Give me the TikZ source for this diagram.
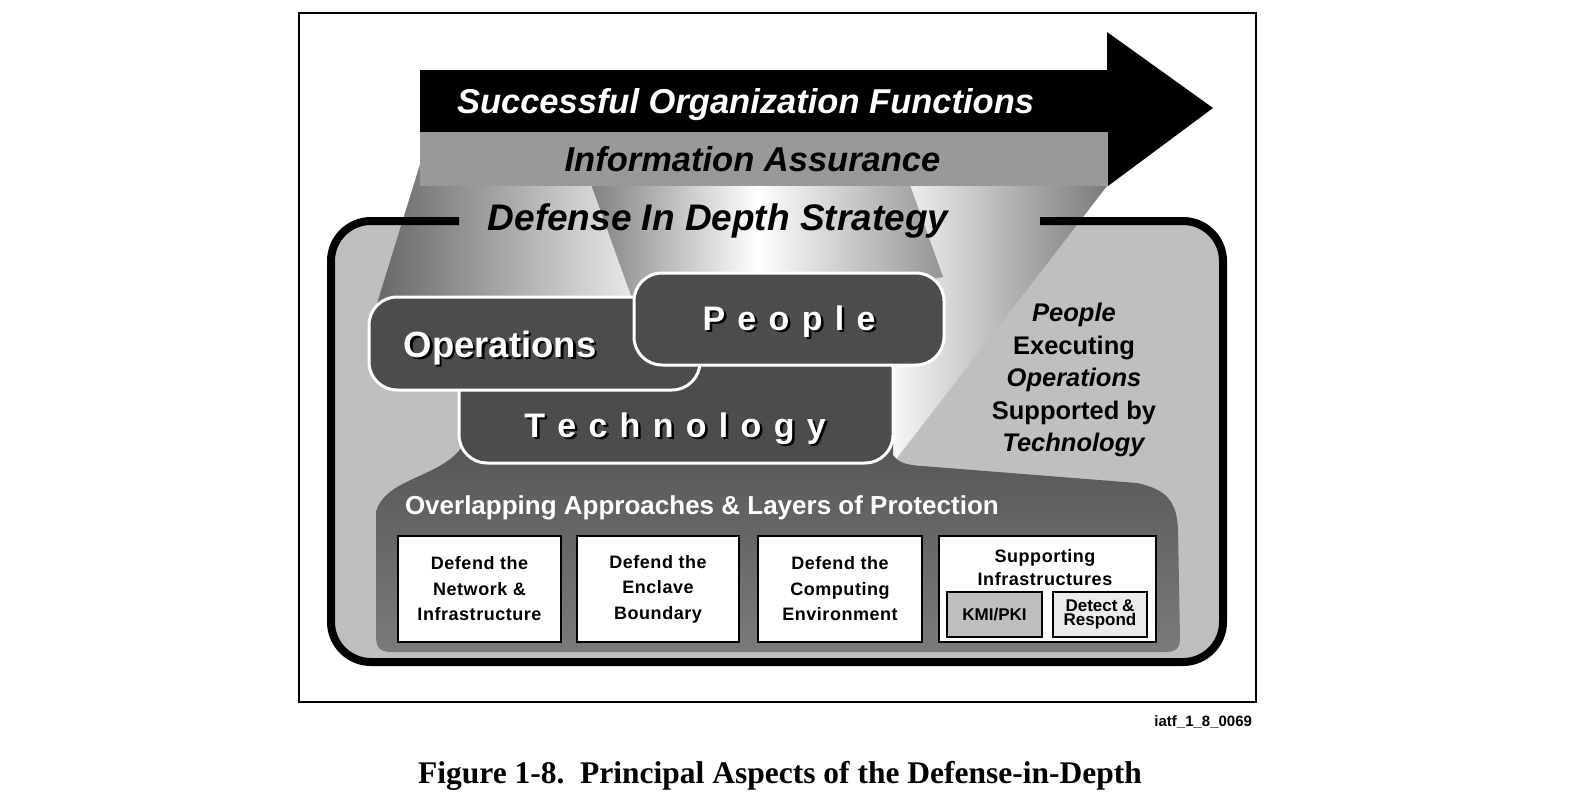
\documentclass[tikz,border=0pt]{standalone}
\usepackage{fontspec}
\setmainfont{Liberation Sans}
\newfontfamily\captionserif{Liberation Serif}
% white word with a dark drop shadow
\newcommand\dropshadow[1]{\leavevmode\rlap{\kern2.5pt\raisebox{-2.5pt}{\textcolor{black}{#1}}}#1}
\newcommand\lettergap{\kern12.3pt}
\begin{document}
\begin{tikzpicture}[x=1pt,y=-1pt]
\tikzset{
  every node/.style={inner sep=0pt, outer sep=0pt},
  bigbox/.style={draw=white, line width=3pt, fill=black!70, rounded corners=28pt},
  bigword/.style={text=white, font=\fontsize{36.5}{40}\selectfont\bfseries},
  spacedword/.style={text=white, font=\fontsize{34}{40}\selectfont\bfseries},
  headword/.style={font=\fontsize{34.5}{40}\selectfont\bfseries\itshape},
  defbox/.style={draw=black, line width=1.6pt, fill=white, minimum height=106pt,
    align=center, font=\fontsize{18}{25.5}\selectfont\bfseries\addfontfeatures{LetterSpace=3}},
  subbox/.style={draw=black, line width=1.6pt, minimum width=95pt, minimum height=45pt,
    align=center, font=\fontsize{17}{14.5}\selectfont\bfseries},
}
\useasboundingbox (0,0) rectangle (1572,804);
\fill[white] (0,0) rectangle (1572,804);

% outer frame
\draw[line width=1.5pt] (299,13) rectangle (1256,702);

% container body
\fill[black!25, rounded corners=40pt] (331,221) rectangle (1223,662);

% light beams falling from the band onto the three pillars
\shade[left color=white, right color=black!52]
  (891,132) -- (1107,132) -- (1107,186) -- (893,463) -- (880,463) -- (880,300) -- (943,277) -- cycle;
\shade[left color=black!55, right color=black!42, middle color=white]
  (572,132) -- (891,132) -- (943,277) -- (636,310) -- cycle;
\shade[left color=black!60, right color=black!8]
  (430,132) -- (572,132) -- (636,310) -- (375,310) -- cycle;

% arrow and band
\fill[black] (420,70) -- (1107,70) -- (1107,32) -- (1213,108) -- (1108,186) -- (1108,132) -- (420,132) -- cycle;
\fill[black!40] (420,132) rectangle (1108,186);

% container outline, open at the top for the title
\draw[line width=8pt, rounded corners=40pt] (459,221) -| (331,662) -| (1223,221) -- (1040,221);

% layers-of-protection panel
\shade[top color=black!67, bottom color=black!52]
  (462,430) -- (462,447) .. controls (440,478) and (385,478) .. (376,512)
  -- (376,636) .. controls (376,648) and (380,652) .. (392,652)
  -- (1166,652) .. controls (1176,652) and (1180,648) .. (1180,638)
  -- (1178,530) .. controls (1177,500) and (1165,489) .. (1137,483)
  -- (922,466) .. controls (905,465) and (898,462) .. (893,455)
  -- (893,430) -- cycle;

% the three pillars
\node[bigbox, minimum width=434pt, minimum height=123pt] (tech) at (676,401.5) {};
\node[bigbox, minimum width=331pt, minimum height=93pt] (ops) at (534.5,343.5) {};
\node[bigbox, minimum width=310pt, minimum height=92pt] (ppl) at (789,319) {};

% titles
\node[headword, text=white, anchor=base] (success) at (745.5,113) {Successful Organization Functions};
\node[headword, anchor=base] (ia) at (752.5,171) {Information Assurance};
\node[font=\fontsize{37}{42}\selectfont\bfseries\itshape, anchor=base] (did) at (718,230) {Defense In Depth Strategy};

% pillar labels
\node[bigword, anchor=base] (opsword) at (500,357) {\dropshadow{Operations}};
\node[spacedword, anchor=base] (pplword) at (789,330)
  {\dropshadow{P\lettergap e\lettergap o\lettergap p\lettergap l\lettergap e}};
\node[spacedword, anchor=base] (techword) at (675,437)
  {\dropshadow{T\lettergap e\lettergap c\lettergap h\lettergap n\lettergap o\lettergap l\lettergap o\lettergap g\lettergap y}};

% summary text
\node[font=\fontsize{25.5}{32.5}\selectfont\bfseries, align=center] (summary) at (1074,380)
  {\textit{People}\\Executing\\\textit{Operations}\\Supported by\\\textit{Technology}};

% layers of protection
\node[text=white, font=\fontsize{26}{30}\selectfont\bfseries, anchor=base west] (layers) at (405,514)
  {Overlapping Approaches \& Layers of Protection};
\node[defbox, minimum width=163pt] (net) at (479.5,589) {Defend the\\Network \&\\Infrastructure};
\node[defbox, minimum width=162pt] (encl) at (658,589) {Defend the\\Enclave\\Boundary};
\node[defbox, minimum width=164pt] (comp) at (840,589) {Defend the\\Computing\\Environment};
\node[defbox, minimum width=217pt] (supp) at (1047.5,589) {};
\node[font=\fontsize{18}{23}\selectfont\bfseries\addfontfeatures{LetterSpace=3}, align=center] (supptext) at (1045,568)
  {Supporting\\Infrastructures};
\node[subbox, fill=black!25] (kmi) at (994.5,614.5) {KMI/PKI};
\node[subbox, fill=black!8, minimum width=94pt] (detect) at (1100,614.5) {Detect \&\\Respond};

% figure id and caption
\node[anchor=base east, font=\fontsize{15}{18}\selectfont\bfseries] (figid) at (1252,726) {iatf\_1\_8\_0069};
\node[anchor=base, font=\captionserif\bfseries\fontsize{31.5}{36}\selectfont] (caption) at (780,783)
  {Figure 1-8.\ \ Principal Aspects of the Defense-in-Depth};
\end{tikzpicture}
\end{document}
